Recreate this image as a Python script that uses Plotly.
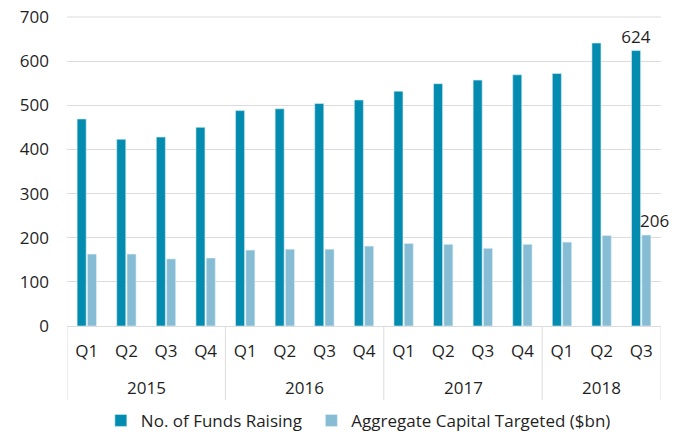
import plotly.graph_objects as go

years = ["2015"] * 4 + ["2016"] * 4 + ["2017"] * 4 + ["2018"] * 3
quarters = ["Q1", "Q2", "Q3", "Q4", "Q1", "Q2", "Q3", "Q4",
            "Q1", "Q2", "Q3", "Q4", "Q1", "Q2", "Q3"]
funds_raising = [469, 423, 428, 450, 488, 492, 504, 512,
                 532, 549, 557, 569, 572, 641, 624]
capital_targeted = [163, 163, 152, 154, 172, 174, 174, 181,
                    187, 185, 176, 185, 190, 205, 206]
funds_labels = [""] * 14 + ["624"]
y_max = 700

FONT = "Open Sans"
TXT = "#1f1f1f"
font = dict(family=FONT, size=17, color=TXT)
GRID = "#dcdcdc"

idx = list(range(len(quarters)))

fig = go.Figure()
fig.add_trace(go.Bar(
    name="No. of Funds Raising\u00a0",
    x=idx, y=funds_raising,
    marker=dict(color="#048cb0", line=dict(color="#d6eef5", width=0.6)),
    text=funds_labels, textposition="outside", constraintext="none",
    textfont=font, cliponaxis=False,
))
fig.add_trace(go.Bar(
    name="Aggregate Capital Targeted ($bn)",
    x=idx, y=capital_targeted,
    marker=dict(color="#86bcd4", line=dict(color="#e3f0f6", width=0.6)),
    cliponaxis=False,
))

# year group labels and dividers, derived from the year list
groups = []
for i, yr in enumerate(years):
    if not groups or groups[-1][0] != yr:
        groups.append([yr, i, i])
    else:
        groups[-1][2] = i

annotations = []
shapes = []
for yr, start, end in groups:
    annotations.append(dict(
        x=(start + end) / 2, y=-0.2, xref="x", yref="paper",
        text=yr, showarrow=False, font=font, yanchor="middle", xanchor="center",
    ))
    shapes.append(dict(type="line", xref="x", yref="paper",
                       x0=start - 0.5, x1=start - 0.5, y0=0, y1=-0.24,
                       line=dict(color=GRID, width=1)))
shapes.append(dict(type="line", xref="x", yref="paper",
                   x0=groups[-1][2] + 0.5, x1=groups[-1][2] + 0.5, y0=0, y1=-0.24,
                   line=dict(color=GRID, width=1)))
# gridline at the top of the value range
shapes.append(dict(type="line", xref="paper", yref="paper",
                   x0=0, x1=1, y0=1, y1=1, layer="below",
                   line=dict(color=GRID, width=1)))

# value label for the last light bar
annotations.append(dict(
    x=idx[-1], y=capital_targeted[-1], xref="x", yref="y",
    text=str(capital_targeted[-1]), showarrow=False, font=font,
    yanchor="bottom", xanchor="center", xshift=13, yshift=1,
))

fig.update_layout(
    width=683, height=450,
    margin=dict(l=59, r=30, t=9, b=132),
    paper_bgcolor="white", plot_bgcolor="white",
    font=font,
    barmode="group", bargap=0.48, bargroupgap=0.12,
    showlegend=True,
    legend=dict(orientation="h", x=0.057, xanchor="left",
                y=-0.307, yanchor="middle",
                font=font, itemwidth=30),
    annotations=annotations,
    shapes=shapes,
)
fig.update_xaxes(
    range=[-0.5, len(idx) - 0.5],
    tickmode="array", tickvals=idx, ticktext=quarters,
    showline=True, linecolor=GRID, linewidth=1,
    showgrid=False, zeroline=False, ticks="", tickfont=font,
    ticklabelstandoff=10, automargin=False,
)
fig.update_yaxes(
    range=[0, y_max], dtick=100,
    showgrid=True, gridcolor=GRID, gridwidth=1,
    zeroline=False, showline=False,
    tickfont=font, ticklabelstandoff=17, automargin=False,
    ticklabeloverflow="allow",
)

fig.write_html("out.html")
